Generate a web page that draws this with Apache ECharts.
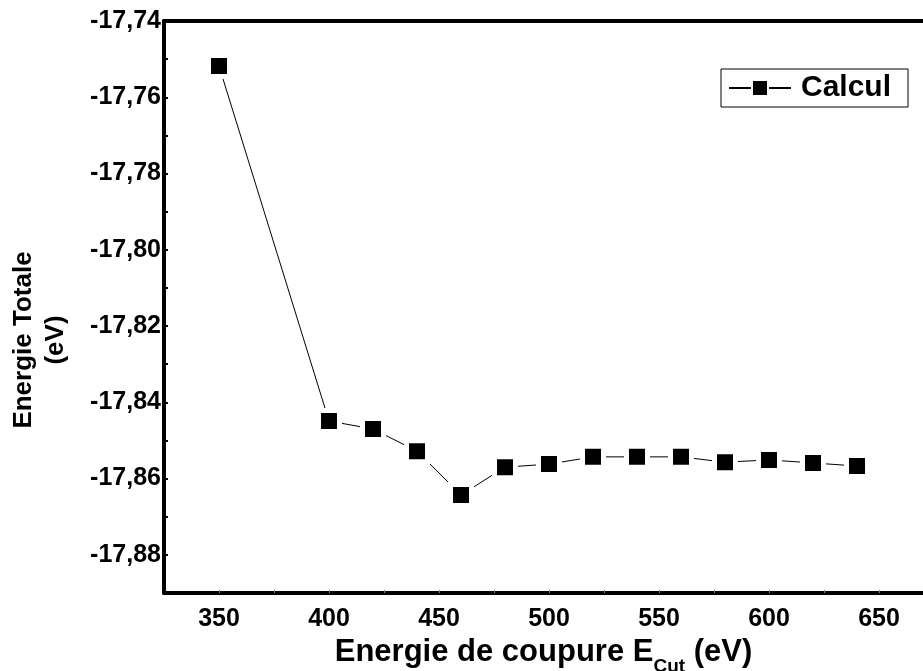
<!DOCTYPE html>
<html>
<head>
    <meta charset="utf-8">
    <title>Energie Totale</title>
    <script src="https://cdn.jsdelivr.net/npm/echarts@6/dist/echarts.min.js"></script>
    <style>
        html, body { margin: 0; padding: 0; background: #fff; }
        #chart { width: 923px; height: 671px; }
    </style>
</head>
<body>
    <div id="chart"></div>
    <script>
        // cut-off energies (eV)
        var ecut = [350, 400, 420, 440, 460, 480, 500, 520, 540, 560, 580, 600, 620, 640];
        // total energy (eV)
        var etot = [-17.7518, -17.8449, -17.8470, -17.8528, -17.8643, -17.8570, -17.8562,
                    -17.8543, -17.8543, -17.8543, -17.8557, -17.8551, -17.8559, -17.8567];
        var xLabels = [350, 400, 450, 500, 550, 600, 650];
        var xTicks = [350, 375, 400, 425, 450, 475, 500, 525, 550, 575, 600, 625, 650];
        var yLabels = [-17.88, -17.86, -17.84, -17.82, -17.80, -17.78, -17.76, -17.74];
        var yTicks = [-17.88, -17.87, -17.86, -17.85, -17.84, -17.83, -17.82, -17.81, -17.80,
                      -17.79, -17.78, -17.77, -17.76, -17.75, -17.74];

        var font = 'Liberation Sans, Arial, sans-serif';
        var chart = echarts.init(document.getElementById('chart'));

        var option = {
            animation: false,
            backgroundColor: '#fff',
            grid: { left: 164, right: 0, top: 21, bottom: 78, outerBoundsMode: 'none' },
            legend: {
                left: 721, top: 69,
                padding: [4, 7],
                borderColor: '#000', borderWidth: 1,
                itemWidth: 62, itemHeight: 20,
                textStyle: { fontFamily: font, fontWeight: 'bold', fontSize: 30, color: '#000',
                             lineHeight: 30, padding: [0, 10, 0, 5] },
                data: ['Calcul']
            },
            xAxis: [{
                type: 'value', min: 325, max: 670,
                name: '{a|Energie de coupure E}{b|Cut}{a| (eV)}',
                nameLocation: 'middle', nameGap: 34,
                nameTextStyle: {
                    rich: {
                        a: { fontFamily: font, fontWeight: 'bold', fontSize: 31, color: '#000', lineHeight: 34, verticalAlign: 'top' },
                        b: { fontFamily: font, fontWeight: 'bold', fontSize: 19, color: '#000', lineHeight: 60 }
                    }
                },
                axisLine: { onZero: false, lineStyle: { color: '#000', width: 4 } },
                axisTick: { inside: true, length: 3, lineStyle: { color: '#888', width: 1 }, customValues: xTicks },
                axisLabel: { customValues: xLabels, margin: 14, fontFamily: font, fontWeight: 'bold', fontSize: 25, color: '#000' },
                splitLine: { show: false }
            }, {
                type: 'value', min: 325, max: 670, position: 'top',
                axisLine: { onZero: false, lineStyle: { color: '#000', width: 4 } },
                axisTick: { show: false }, axisLabel: { show: false }, splitLine: { show: false }
            }],
            yAxis: {
                type: 'value', min: -17.89, max: -17.74,
                axisLine: { onZero: false, lineStyle: { color: '#000', width: 4 } },
                axisTick: { inside: true, length: 4, lineStyle: { color: '#000', width: 2 }, customValues: yTicks },
                axisLabel: {
                    customValues: yLabels, margin: 3,
                    fontFamily: font, fontWeight: 'bold', fontSize: 25, color: '#000',
                    formatter: function (v) { return v.toFixed(2).replace('.', ','); }
                },
                splitLine: { show: false }
            },
            graphic: [{
                type: 'text', x: 40, y: 340, rotation: Math.PI / 2,
                style: {
                    text: 'Energie Totale\n(eV)', fill: '#000',
                    font: 'bold 26px ' + font, lineHeight: 32,
                    textAlign: 'center', textVerticalAlign: 'middle'
                }
            }],
            series: [{
                name: 'Calcul', type: 'line',
                data: ecut.map(function (x, i) { return [x, etot[i]]; }),
                symbol: 'rect', symbolSize: 21,
                lineStyle: { color: '#000', width: 1 },
                itemStyle: { color: '#000', borderColor: '#fff', borderWidth: 5 }
            }]
        };
        chart.setOption(option);
    </script>
</body>
</html>
